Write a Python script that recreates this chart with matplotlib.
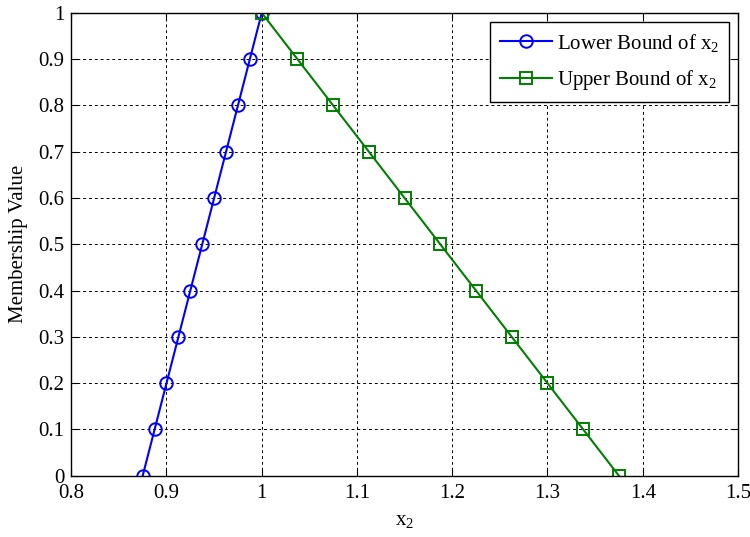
import numpy as np
import matplotlib
matplotlib.use('Agg')
import matplotlib.pyplot as plt

# membership levels and bounds of x2
mu = [0, 0.1, 0.2, 0.3, 0.4, 0.5, 0.6, 0.7, 0.8, 0.9, 1.0]
x2_lower = [0.875, 0.8875, 0.9, 0.9125, 0.925, 0.9375, 0.95, 0.9625, 0.975, 0.9875, 1.0]
x2_upper = [1.375, 1.3375, 1.3, 1.2625, 1.225, 1.1875, 1.15, 1.1125, 1.075, 1.0375, 1.0]

xticks = [0.8, 0.9, 1.0, 1.1, 1.2, 1.3, 1.4, 1.5]
xtick_labels = ['0.8', '0.9', '1', '1.1', '1.2', '1.3', '1.4', '1.5']
yticks = mu
ytick_labels = ['0', '0.1', '0.2', '0.3', '0.4', '0.5', '0.6', '0.7', '0.8', '0.9', '1']

plt.rcParams['font.family'] = ['Liberation Serif', 'DejaVu Serif']
plt.rcParams['font.size'] = 15
plt.rcParams['mathtext.fontset'] = 'custom'
plt.rcParams['mathtext.rm'] = 'Liberation Serif'
plt.rcParams['mathtext.it'] = 'Liberation Serif:italic'

fig = plt.figure(figsize=(7.5, 5.37), dpi=100)
ax = fig.add_axes([0.095, 0.114, 0.889, 0.862])

ax.plot(x2_lower, mu, color='blue', marker='o', ms=9, mfc='none', mew=1.4, lw=1.5,
        label='Lower Bound of x$_2$')
ax.plot(x2_upper, mu, color='green', marker='s', ms=8, mfc='none', mew=1.4, lw=1.5,
        label='Upper Bound of x$_2$')

ax.set_xlim(0.8, 1.5)
ax.set_ylim(0, 1)
ax.set_xticks(xticks)
ax.set_xticklabels(xtick_labels)
ax.set_yticks(yticks)
ax.set_yticklabels(ytick_labels)
ax.tick_params(direction='in', length=5, top=True, right=True)
ax.tick_params(axis='x', pad=6)
ax.tick_params(axis='y', pad=5)
ax.grid(True, color='black', linestyle=(0, (3, 3)), lw=0.7)
for s in ax.spines.values():
    s.set_linewidth(1.0)

ax.set_xlabel('x$_2$', labelpad=6)
ax.set_ylabel('Membership Value', labelpad=7)

leg = ax.legend(loc='upper right', fancybox=False, edgecolor='black', framealpha=1,
                borderaxespad=0.45, handlelength=2.5, handletextpad=0.25,
                labelspacing=0.7, borderpad=0.45)
leg.get_frame().set_linewidth(1.0)

fig.savefig('out.png', dpi=100)
